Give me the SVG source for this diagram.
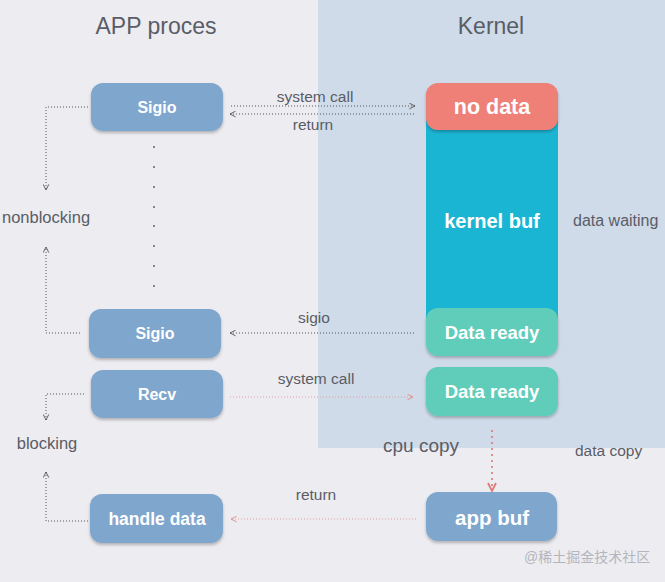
<svg xmlns="http://www.w3.org/2000/svg" width="665" height="582" viewBox="0 0 665 582">
<style>
.lbl{font-family:"Liberation Sans",Arial,sans-serif;fill:#5a5d66;}
.bt{font-family:"Liberation Sans",Arial,sans-serif;font-weight:bold;fill:#ffffff;text-anchor:middle;}
.blue{fill:#7fa6cd;}
.con{fill:none;stroke:#555;stroke-width:1;stroke-dasharray:1 2;}
.red{fill:none;stroke:#e59a9a;stroke-width:1;stroke-dasharray:1 2;}
</style>
<defs>
<filter id="sh" x="-20%" y="-20%" width="140%" height="150%">
<feDropShadow dx="0" dy="2" stdDeviation="1.5" flood-color="#000" flood-opacity="0.25"/>
</filter>
<marker id="ad" viewBox="0 0 10 10" refX="9" refY="5" markerWidth="7" markerHeight="7" orient="auto" markerUnits="userSpaceOnUse">
<path d="M1,1 L9,5 L1,9" fill="none" stroke="#555" stroke-width="1.3"/>
</marker>
<marker id="ar" viewBox="0 0 10 10" refX="9" refY="5" markerWidth="7" markerHeight="7" orient="auto" markerUnits="userSpaceOnUse">
<path d="M1,1 L9,5 L1,9" fill="none" stroke="#e08a8a" stroke-width="1.3"/>
</marker>
<marker id="arb" viewBox="0 0 10 10" refX="9" refY="5" markerWidth="10" markerHeight="10" orient="auto" markerUnits="userSpaceOnUse">
<path d="M1,1 L9,5 L1,9" fill="none" stroke="#e07a74" stroke-width="1.8"/>
</marker>
</defs>
<rect x="0" y="0" width="665" height="582" fill="#edecf1"/>
<rect x="318" y="0" width="347" height="448" fill="#cfdbe9"/>

<text class="lbl" x="156" y="34" font-size="23" text-anchor="middle">APP proces</text>
<text class="lbl" x="491" y="34" font-size="23" text-anchor="middle">Kernel</text>

<g id="connectors">
<line class="con" x1="231" y1="106" x2="415" y2="106" marker-end="url(#ad)"/>
<line class="con" x1="414" y1="114" x2="230" y2="114" marker-end="url(#ad)"/>
<polyline class="con" points="88,107 46,107 46,190" marker-end="url(#ad)"/>
<polyline class="con" points="80,333 46,333 46,247" marker-end="url(#ad)"/>
<line class="con" x1="414" y1="333" x2="230" y2="333" marker-end="url(#ad)"/>
<line class="red" x1="230" y1="397" x2="413" y2="397" marker-end="url(#ar)"/>
<polyline class="con" points="84,394 46,394 46,420" marker-end="url(#ad)"/>
<polyline class="con" points="88,521 46,521 46,472" marker-end="url(#ad)"/>
<line class="red" x1="416" y1="519" x2="231" y2="519" marker-end="url(#ar)"/>
<line x1="492" y1="430" x2="492" y2="491" fill="none" stroke="#d97a76" stroke-width="1.6" stroke-dasharray="2 4" marker-end="url(#arb)"/>
<g fill="#555">
<circle cx="154" cy="147" r="0.9"/><circle cx="154" cy="167" r="0.9"/><circle cx="154" cy="187" r="0.9"/><circle cx="154" cy="207" r="0.9"/>
<circle cx="154" cy="226" r="0.9"/><circle cx="154" cy="246" r="0.9"/><circle cx="154" cy="266" r="0.9"/><circle cx="154" cy="286" r="0.9"/>
</g>
</g>

<text class="lbl" x="315" y="102" font-size="15.5" text-anchor="middle">system call</text>
<text class="lbl" x="313" y="130" font-size="15.5" text-anchor="middle">return</text>
<text class="lbl" x="2" y="223" font-size="16.5">nonblocking</text>
<text class="lbl" x="314" y="323" font-size="15.5" text-anchor="middle">sigio</text>
<text class="lbl" x="316" y="384" font-size="15.5" text-anchor="middle">system call</text>
<text class="lbl" x="47" y="449" font-size="16.5" text-anchor="middle">blocking</text>
<text class="lbl" x="421" y="452" font-size="19" text-anchor="middle">cpu copy</text>
<text class="lbl" x="575" y="456" font-size="15.5">data copy</text>
<text class="lbl" x="573" y="226" font-size="16">data waiting</text>
<text class="lbl" x="316" y="500" font-size="15.5" text-anchor="middle">return</text>

<g id="sigio1"><rect class="blue" x="91" y="83" width="132" height="48" rx="12" filter="url(#sh)"/><text class="bt" x="157" y="113" font-size="16">Sigio</text></g>
<g id="sigio2"><rect class="blue" x="89" y="309" width="132" height="49" rx="12" filter="url(#sh)"/><text class="bt" x="155" y="339" font-size="16">Sigio</text></g>
<g id="recv"><rect class="blue" x="91" y="370" width="132" height="48" rx="12" filter="url(#sh)"/><text class="bt" x="157" y="400" font-size="16">Recv</text></g>
<g id="handle"><rect class="blue" x="90" y="494" width="133" height="49" rx="12" filter="url(#sh)"/><text class="bt" x="157" y="525" font-size="17.5">handle data</text></g>

<g id="kernelbuf"><rect x="426" y="86" width="132" height="266" rx="12" fill="#1bb5d4"/><text class="bt" x="492" y="228" font-size="20">kernel buf</text></g>
<g id="nodata"><rect x="426" y="83" width="132" height="47" rx="12" fill="#ee8078" filter="url(#sh)"/><text class="bt" x="492" y="114" font-size="21.5">no data</text></g>
<g id="ready1"><rect x="426" y="308" width="132" height="48" rx="12" fill="#5fcdb9" filter="url(#sh)"/><text class="bt" x="492" y="339" font-size="18.5">Data ready</text></g>
<g id="ready2"><rect x="426" y="367" width="132" height="49" rx="12" fill="#5fcdb9" filter="url(#sh)"/><text class="bt" x="492" y="398" font-size="18.5">Data ready</text></g>
<g id="appbuf"><rect class="blue" x="426" y="492" width="131" height="49" rx="12" filter="url(#sh)"/><text class="bt" x="492" y="525" font-size="20.5">app buf</text></g>

<text x="524" y="562" font-size="14" fill="#b4b6bd" font-family="'Liberation Sans','Noto Sans CJK SC',sans-serif">@稀土掘金技术社区</text>
</svg>
